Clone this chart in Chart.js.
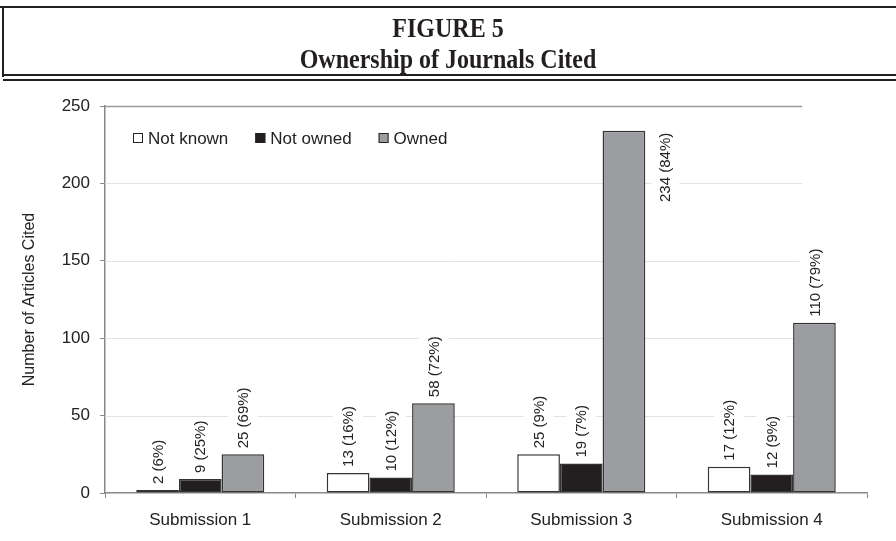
<!DOCTYPE html>
<html>
<head>
<meta charset="utf-8">
<title>Ownership of Journals Cited</title>
<script src="https://cdn.jsdelivr.net/npm/chart.js@4/dist/chart.umd.min.js"></script>
<style>
	html, body { margin: 0; padding: 0; background: #fff; }
	#wrap { position: relative; width: 896px; height: 541px; overflow: hidden; }
	#wrap canvas { position: absolute; left: 0; top: 0; }
	.rule { position: absolute; background: #231f20; }
	.head { position: absolute; left: 0; width: 896px; text-align: center;
		font-family: 'Liberation Serif', 'Times New Roman', serif; font-weight: bold;
		font-size: 24px; color: #231f20; line-height: 1; transform: scaleY(1.17); }
</style>
</head>
<body>
<div id="wrap">
	<canvas id="graphicOwnership"></canvas>
	<div class="rule" style="left:0; top:6px; width:896px; height:2px;"></div>
	<div class="rule" style="left:2px; top:6px; width:2px; height:71px;"></div>
	<div class="rule" style="left:2px; top:74px; width:894px; height:2px;"></div>
	<div class="rule" style="left:3px; top:79px; width:893px; height:2px;"></div>
	<div class="head" style="top:16px;">FIGURE 5</div>
	<div class="head" style="top:47px;">Ownership of Journals Cited</div>
</div>
<script>
var submissions = ['Submission 1', 'Submission 2', 'Submission 3', 'Submission 4'];

var notKnown = [2, 13, 25, 17];
var notKnownPct = [6, 16, 9, 12];

var notOwned = [9, 10, 19, 12];
var notOwnedPct = [25, 12, 7, 9];

var owned = [25, 58, 234, 110];
var ownedPct = [69, 72, 84, 79];

var yTicks = [0, 50, 100, 150, 200, 250];

var FONT = "'Liberation Sans', Arial, sans-serif";
var INK = '#222222';

// Excel-style horizontal gridlines, stopping short of the right edge
var gridLines = {
	id: 'gridLines',
	beforeDatasetsDraw: function(chart) {
		var ctx = chart.ctx;
		var area = chart.chartArea;
		var y = chart.scales.y;
		var end = area.left + (area.right - area.left) * 0.915;
		ctx.save();
		yTicks.forEach(function(v) {
			if (v === 0) return;
			var py = Math.round(y.getPixelForValue(v)) + 0.5;
			ctx.strokeStyle = v === yTicks[yTicks.length - 1] ? '#9a9a9a' : '#e3e3e3';
			ctx.lineWidth = v === yTicks[yTicks.length - 1] ? 1.5 : 1;
			ctx.beginPath();
			ctx.moveTo(area.left, py);
			ctx.lineTo(end, py);
			ctx.stroke();
		});
		ctx.restore();
	}
};

// rotated "n (p%)" labels over each bar
var barLabels = {
	id: 'barLabels',
	afterDatasetsDraw: function(chart) {
		var ctx = chart.ctx;
		var area = chart.chartArea;
		ctx.save();
		ctx.font = '15px ' + FONT;
		ctx.textBaseline = 'middle';
		chart.data.datasets.forEach(function(ds, i) {
			var meta = chart.getDatasetMeta(i);
			meta.data.forEach(function(bar, j) {
				var text = ds.data[j] + ' (' + ds.pct[j] + '%)';
				var w = ctx.measureText(text).width;
				ctx.save();
				if (bar.y - 6 - w < area.top) {
					// no room above: put it beside the bar, hanging from its top
					ctx.translate(bar.x + bar.width / 2 + 20, bar.y + 2);
					ctx.rotate(-Math.PI / 2);
					ctx.fillStyle = '#fff';
					ctx.fillRect(-w - 3, -14, w + 6, 28);
					ctx.fillStyle = INK;
					ctx.textAlign = 'right';
				} else {
					ctx.translate(bar.x, bar.y - 6);
					ctx.rotate(-Math.PI / 2);
					ctx.fillStyle = '#fff';
					ctx.fillRect(-3, -15, w + 6, 30);
					ctx.fillStyle = INK;
					ctx.textAlign = 'left';
				}
				ctx.fillText(text, 0, 1);
				ctx.restore();
			});
		});
		ctx.restore();
	}
};

// legend drawn inside the plot, top left
var insideLegend = {
	id: 'insideLegend',
	afterDraw: function(chart) {
		var ctx = chart.ctx;
		var area = chart.chartArea;
		var x = area.left + 28;
		var cy = area.top + 32;
		ctx.save();
		ctx.font = '17px ' + FONT;
		ctx.textBaseline = 'middle';
		ctx.textAlign = 'left';
		chart.data.datasets.forEach(function(ds) {
			ctx.fillStyle = ds.backgroundColor;
			ctx.fillRect(x, cy - 5, 10, 10);
			ctx.strokeStyle = '#222';
			ctx.lineWidth = 1;
			ctx.strokeRect(x + 0.5, cy - 4.5, 9, 9);
			ctx.fillStyle = INK;
			ctx.fillText(ds.label, x + 15, cy + 1);
			x += 15 + ctx.measureText(ds.label).width + 27;
		});
		ctx.restore();
	}
};

function barSet(label, color, values, pct) {
	return {
		label: label,
		data: values,
		pct: pct,
		backgroundColor: color,
		borderColor: '#333333',
		borderWidth: 1.5,
		borderSkipped: false,
		barPercentage: 1.0,
		categoryPercentage: 0.672
	};
}

new Chart(document.getElementById('graphicOwnership').getContext('2d'), {
	type: 'bar',
	data: {
		labels: submissions,
		datasets: [
			barSet('Not known', '#ffffff', notKnown, notKnownPct),
			barSet('Not owned', '#231f20', notOwned, notOwnedPct),
			barSet('Owned', '#9c9da0', owned, ownedPct)
		]
	},
	options: {
		responsive: true,
		maintainAspectRatio: false,
		animation: false,
		layout: { padding: { top: 106, left: 20, right: 29, bottom: 0 } },
		plugins: {
			legend: { display: false },
			tooltip: { enabled: false }
		},
		scales: {
			x: {
				grid: { display: true, drawOnChartArea: false, offset: true, tickLength: 5, color: '#888' },
				border: { color: '#888', width: 1.5 },
				ticks: { color: INK, font: { family: FONT, size: 17 }, padding: 12 },
				afterFit: function(scale) { scale.height = 48; }
			},
			y: {
				min: 0,
				max: 250,
				afterBuildTicks: function(scale) {
					scale.ticks = yTicks.map(function(v) { return { value: v }; });
				},
				grid: { display: true, drawOnChartArea: false, tickLength: 5, color: '#888' },
				border: { color: '#888', width: 1.5 },
				ticks: { color: INK, font: { family: FONT, size: 17 }, padding: 10 },
				title: {
					display: true,
					text: 'Number of Articles Cited',
					color: INK,
					font: { family: FONT, size: 16 },
					padding: 0
				},
				afterFit: function(scale) { scale.width = 85; }
			}
		}
	},
	plugins: [gridLines, barLabels, insideLegend]
});
</script>
</body>
</html>
